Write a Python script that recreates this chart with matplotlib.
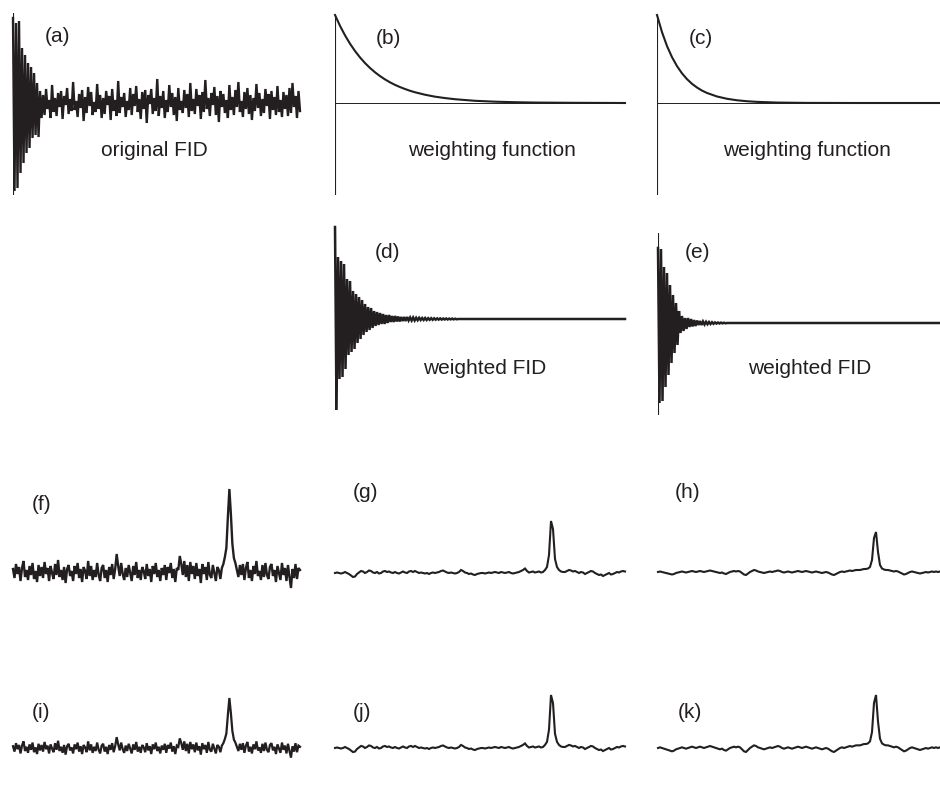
import numpy as np
import matplotlib
matplotlib.use("Agg")
import matplotlib.pyplot as plt

W, H = 940, 796
INK = "#231f20"
FONT = "Liberation Sans"

# ---------------- data (px-like units above baseline) ----------
# (a) original FID, samples every 1.5 px
fid_a = [85, -88, 80, -85, 82, -70, 55, -60, 48, -50, 40, -45, 36, -35, 30, -32, 20, -34, 12, -15,
         8, -12, 14, -6, 3, -15, 18, -9, 5, -13, 10, -4, 12, -16, 7, -2, 15, -11, 4, -8,
         21, -7, 2, -14, 9, -5, 13, -18, 6, -10, 16, -3, 11, -12, 1, -9, 19, -6, 8, -15,
         5, -11, 12, -2, 7, -17, 14, -8, 3, -13, 22, -10, 6, -4, 10, -14, 2, -7, 15, -12,
         9, -3, 17, -9, 4, -16, 11, -6, 13, -20, 8, -1, 14, -11, 5, -8, 24, -13, 7, -5,
         12, -15, 3, -9, 18, -4, 10, -12, 6, -18, 15, -7, 2, -10, 13, -5, 9, -14, 20, -8,
         4, -11, 14, -3, 8, -16, 11, -9, 23, -6, 5, -13, 10, -2, 16, -12, 7, -19, 12, -4,
         9, -10, 3, -15, 18, -7, 6, -12, 13, -4, 21, -9, 2, -14, 11, -6, 15, -11, 8, -17,
         5, -8, 19, -5, 10, -13, 4, -10, 14, -3, 9, -16, 12, -7, 6, -12, 17, -9, 3, -14,
         11, -6, 8, -13, 15, -10, 20, -4, 7, -15, 12, -8]

# (b), (c) weighting functions (normalised)
t_b = [0, 5, 10, 15, 20, 25, 30, 35, 40, 45, 50, 55, 60, 65, 70, 75, 80, 90, 100, 110,
       120, 140, 160, 180, 200, 240, 290]
w_b = [1.0, 0.877, 0.769, 0.674, 0.591, 0.518, 0.454, 0.398, 0.349, 0.306, 0.268, 0.235,
       0.206, 0.181, 0.159, 0.139, 0.122, 0.094, 0.072, 0.056, 0.043, 0.025, 0.015, 0.009,
       0.005, 0.002, 0.0]
t_c = [0, 5, 10, 15, 20, 25, 30, 35, 40, 45, 50, 60, 70, 80, 90, 100, 120, 150, 200, 283]
w_c = [1.0, 0.805, 0.647, 0.521, 0.419, 0.337, 0.271, 0.218, 0.176, 0.141, 0.114, 0.074,
       0.048, 0.031, 0.020, 0.013, 0.005, 0.001, 0.0, 0.0]

# (d), (e) weighted FIDs (non-zero start; flat afterwards)
fid_d = [92, -91, 62, -60, 58, -58, 55, -50, 40, -36, 38, -33, 28, -30, 25, -24, 22, -20, 19, -16,
         15, -13, 12, -11, 11, -9, 8, -7, 7, -6, 6, -5, 5, -5, 4, -4, 4, -3, 3, -3,
         3, -2.5, 2.5, -2.5, 2, -2, 2, -2, 2, -1.5, 1.5, -1.5, 1.5, -1.5, 1.2, -1.2, 1.2, -1, 1, -1,
         1, -1, 0.8, -0.8, 0.8, -0.8, 0.7, -0.7, 0.6, -0.6, 0.6, -0.6, 0.5, -0.5, 0.5, -0.5,
         0.4, -0.4, 0.4, -0.4, 0.3, -0.3]
n_d = 194
fid_e = [75, -80, 74, -78, 56, -64, 50, -52, 38, -40, 28, -30, 20, -22, 12, -10, 7, -8, 5, -6,
         5, -4, 4, -3.5, 3, -3, 2.5, -2, 2, -2, 1.5, -1.5, 1.2, -1.2, 1, -1, 0.8, -0.8, 0.6, -0.6,
         0.5, -0.5, 0.4, -0.4, 0.3, -0.3]
n_e = 189

# (f)/(i) spectrum of original FID, samples every 1.5 px
spec_f = [3, -6, 8, -2, 5, -9, 4, 11, -5, 2, -8, 6, -3, 9, -7, 1, -10, 7, -4, 5,
          -6, 10, -2, 4, -9, 6, -1, -7, 8, -3, 12, -5, 2, -8, 5, -11, 3, 7, -4, 1,
          -9, 6, -2, 9, -6, 3, -10, 5, 1, -7, 11, -4, 6, -8, 2, -5, 9, -3, -9, 4,
          7, -6, 2, -10, 5, -3, 8, -7, 3, 18, 6, -4, 9, -2, -8, 4, -5, 7, -1, -9,
          6, -3, 10, -6, 2, -8, 5, 1, -7, 8, -4, 3, -10, 6, -2, 9, -5, 2, -9, 4,
          -3, 7, -8, 5, -1, 9, -6, 3, -10, 4, 2, 16, 8, -3, 11, -5, 7, -9, 10, -2,
          6, -7, 9, -4, 3, -11, 8, -2, 5, -8, 10, -3, -6, 7, -1, -9, 5, 2, -7, 4,
          8, 15, 24, 55, 83, 58, 28, 14, 9, 2,
          -5, 7, -3, 8, -8, 4, 10, -6, 2, -9, 6, -2, 11, -4, 1, -8, 7, -5, 9, -3,
          -7, 5, 8, -4, 2, -10, 6, -1, -8, 9, -3, 4, -9, 7, -5, -16, 3, -6, 8, -7, 4, 2]

# (g)/(j) spectrum of weighted FID (d), samples every 2 px
spec_g = [0, 0.5, 0, -0.5, 0, 1, 0, -1, -2.5, -4,
          -3.5, -1, 0.5, 2, 1.5, 0, 1, 2.5, 2, 0.5,
          0, 1, -0.5, 0, 1.5, 2, 1, 1.5, 0.5, 0,
          1, 0, -0.5, 0.5, 1.5, 0.5, 0, 1.5, 2, 1,
          2, 1, 0, 0.5, 0, -0.5, 0, -1, 0, 0.5,
          0, 0.5, 1, 2, 2.5, 1.5, 0.5, 0, 0.5, 0,
          -0.5, 0, 1, 3, 2, 0.5, 0, -1, -0.5, -1.5,
          -2, -1, -0.5, 0, 0, -0.5, 0, 0.5, 0, 0.5,
          1, 0.5, 0, 1, 0.5, 0, 0.5, 1, 0, -0.5,
          0, 0.5, 1, 2, 3, 4.5, 2, 0.5, 1, 1.5,
          0.5, 1, 1.5, 0.5, 1, 3, 6, 18, 52, 44,
          14, 6, 3, 1.5, 1, 1, 2, 3, 2.5, 1.5,
          2, 1, 0, 1, 0.5, -1, 0, 1, 2, 1.5,
          0, -1, -2, -1.5, -3, -2, -1, 0, -1.5, -1,
          0, 1, 0.5, 1.5, 2, 1.5]

# (h)/(k) spectrum of weighted FID (e), samples every 2 px
spec_h = [0, 0.5, 0, -0.5, -1, -1.5, -2, -2.5, -2, -1,
          -0.5, 0, 0.5, 0, -0.5, 0, 0.5, 1, 0.5, 0,
          0.5, 1, 0.5, 0, 0.5, 1, 1.5, 1, 0.5, 0,
          -0.5, -1, -0.5, -1.5, -2, -1, 0, 0.5, 1, 0.5,
          1, 0.5, -1, -2.5, -3, -1.5, 0, 1, 2, 1.5,
          0.5, 0, -0.5, -1, -0.5, 0, 0.5, 0, 0.5, 1,
          1.5, 1, 0, -0.5, 0, 0.5, 0, -0.5, 0, 0.5,
          1, 0.5, 0, 0.5, 1, 0.5, 0, -0.5, 0, 0.5,
          0, -0.5, -1, -0.5, 0, -0.5, -1.5, -2.5, -3, -2,
          -1, 0, 0.5, 0, 0.5, 1, 1.5, 1, 1.5, 2,
          2, 2, 2.5, 3, 3, 3.5, 5, 12, 34, 40,
          20, 7, 3.5, 2.5, 2, 2, 1.5, 1, 0.5, 1,
          0.5, -0.5, -1.5, -2.5, -2, -1, 0, 0.5, 0, -0.5,
          -1, -1.5, -1, -0.5, 0, -0.5, 0, 0.5, 0, 0.5,
          0, 0.5]

panel_labels = ["(a)", "(b)", "(c)", "(d)", "(e)", "(f)", "(g)", "(h)", "(i)", "(j)", "(k)"]

# ---------------- drawing ----------------
fig = plt.figure(figsize=(W / 100, H / 100), dpi=100)


def px_axes(x0, x1, ytop, ybot, base, scale):
    ax = fig.add_axes([x0 / W, 1 - ybot / H, (x1 - x0) / W, (ybot - ytop) / H])
    ax.set_ylim(-(ybot - base) / scale, (base - ytop) / scale)
    ax.axis("off")
    return ax


def trace(ax, y, lw):
    y = np.asarray(y, dtype=float)
    x = np.arange(len(y))
    ax.plot(x, y, color=INK, lw=lw, solid_joinstyle="miter", clip_on=False)
    ax.set_xlim(0, len(y) - 1)


# (a)
ax = px_axes(13, 300, 13, 195, 103, 1.0)
trace(ax, fid_a, 1.7)
ax.axvline(0, color=INK, lw=0.8)

# (b), (c)
for (x0, x1, t, w) in [(335, 625, t_b, w_b), (657, 940, t_c, w_c)]:
    ax = px_axes(x0, x1, 15, 195, 103, 88.0)
    ax.plot(t, w, color=INK, lw=1.5, clip_on=False)
    ax.set_xlim(0, t[-1])
    ax.axhline(0, color=INK, lw=0.7)
    ax.axvline(0, color=INK, lw=0.8)

# (d), (e)
for (x0, x1, ytop, ybot, base, vals, n) in [(335, 625, 227, 410, 319, fid_d, n_d),
                                             (658, 940, 233, 415, 323, fid_e, n_e)]:
    ax = px_axes(x0, x1, ytop, ybot, base, 1.0)
    full = list(vals) + [0.0] * (n - len(vals))
    trace(ax, full, 1.8)
    ax.axvline(0, color=INK, lw=0.8)

# spectra rows
rows = [
    (13, 300, 572, spec_f, 1.0, 1.7),
    (335, 625, 573, spec_g, 1.0, 1.5),
    (658, 940, 572, spec_h, 1.0, 1.5),
    (13, 300, 748, spec_f, 50 / 83, 1.6),
    (335, 625, 748, spec_g, 53 / 52, 1.5),
    (658, 940, 748, spec_h, 53 / 40, 1.5),
]
for (x0, x1, base, vals, s, lw) in rows:
    ax = px_axes(x0, x1, base - 100, base + 25, base, s)
    trace(ax, vals, lw)

# texts
label_pos = [(57, 37), (388, 38), (701, 38), (387, 253), (697, 253),
             (42, 505), (366, 493), (688, 493), (41, 712), (362, 713), (690, 713)]
for lab, (x, y) in zip(panel_labels, label_pos):
    fig.text(x / W, 1 - y / H, lab, ha="center", va="center", fontsize=15,
             family=FONT, color=INK)

captions = [("original FID", 154, 150), ("weighting function", 492, 151),
            ("weighting function", 807, 151), ("weighted FID", 485, 369),
            ("weighted FID", 810, 369)]
for txt, x, y in captions:
    fig.text(x / W, 1 - y / H, txt, ha="center", va="center", fontsize=15,
             family=FONT, color=INK)

fig.savefig("out.png", dpi=100)
